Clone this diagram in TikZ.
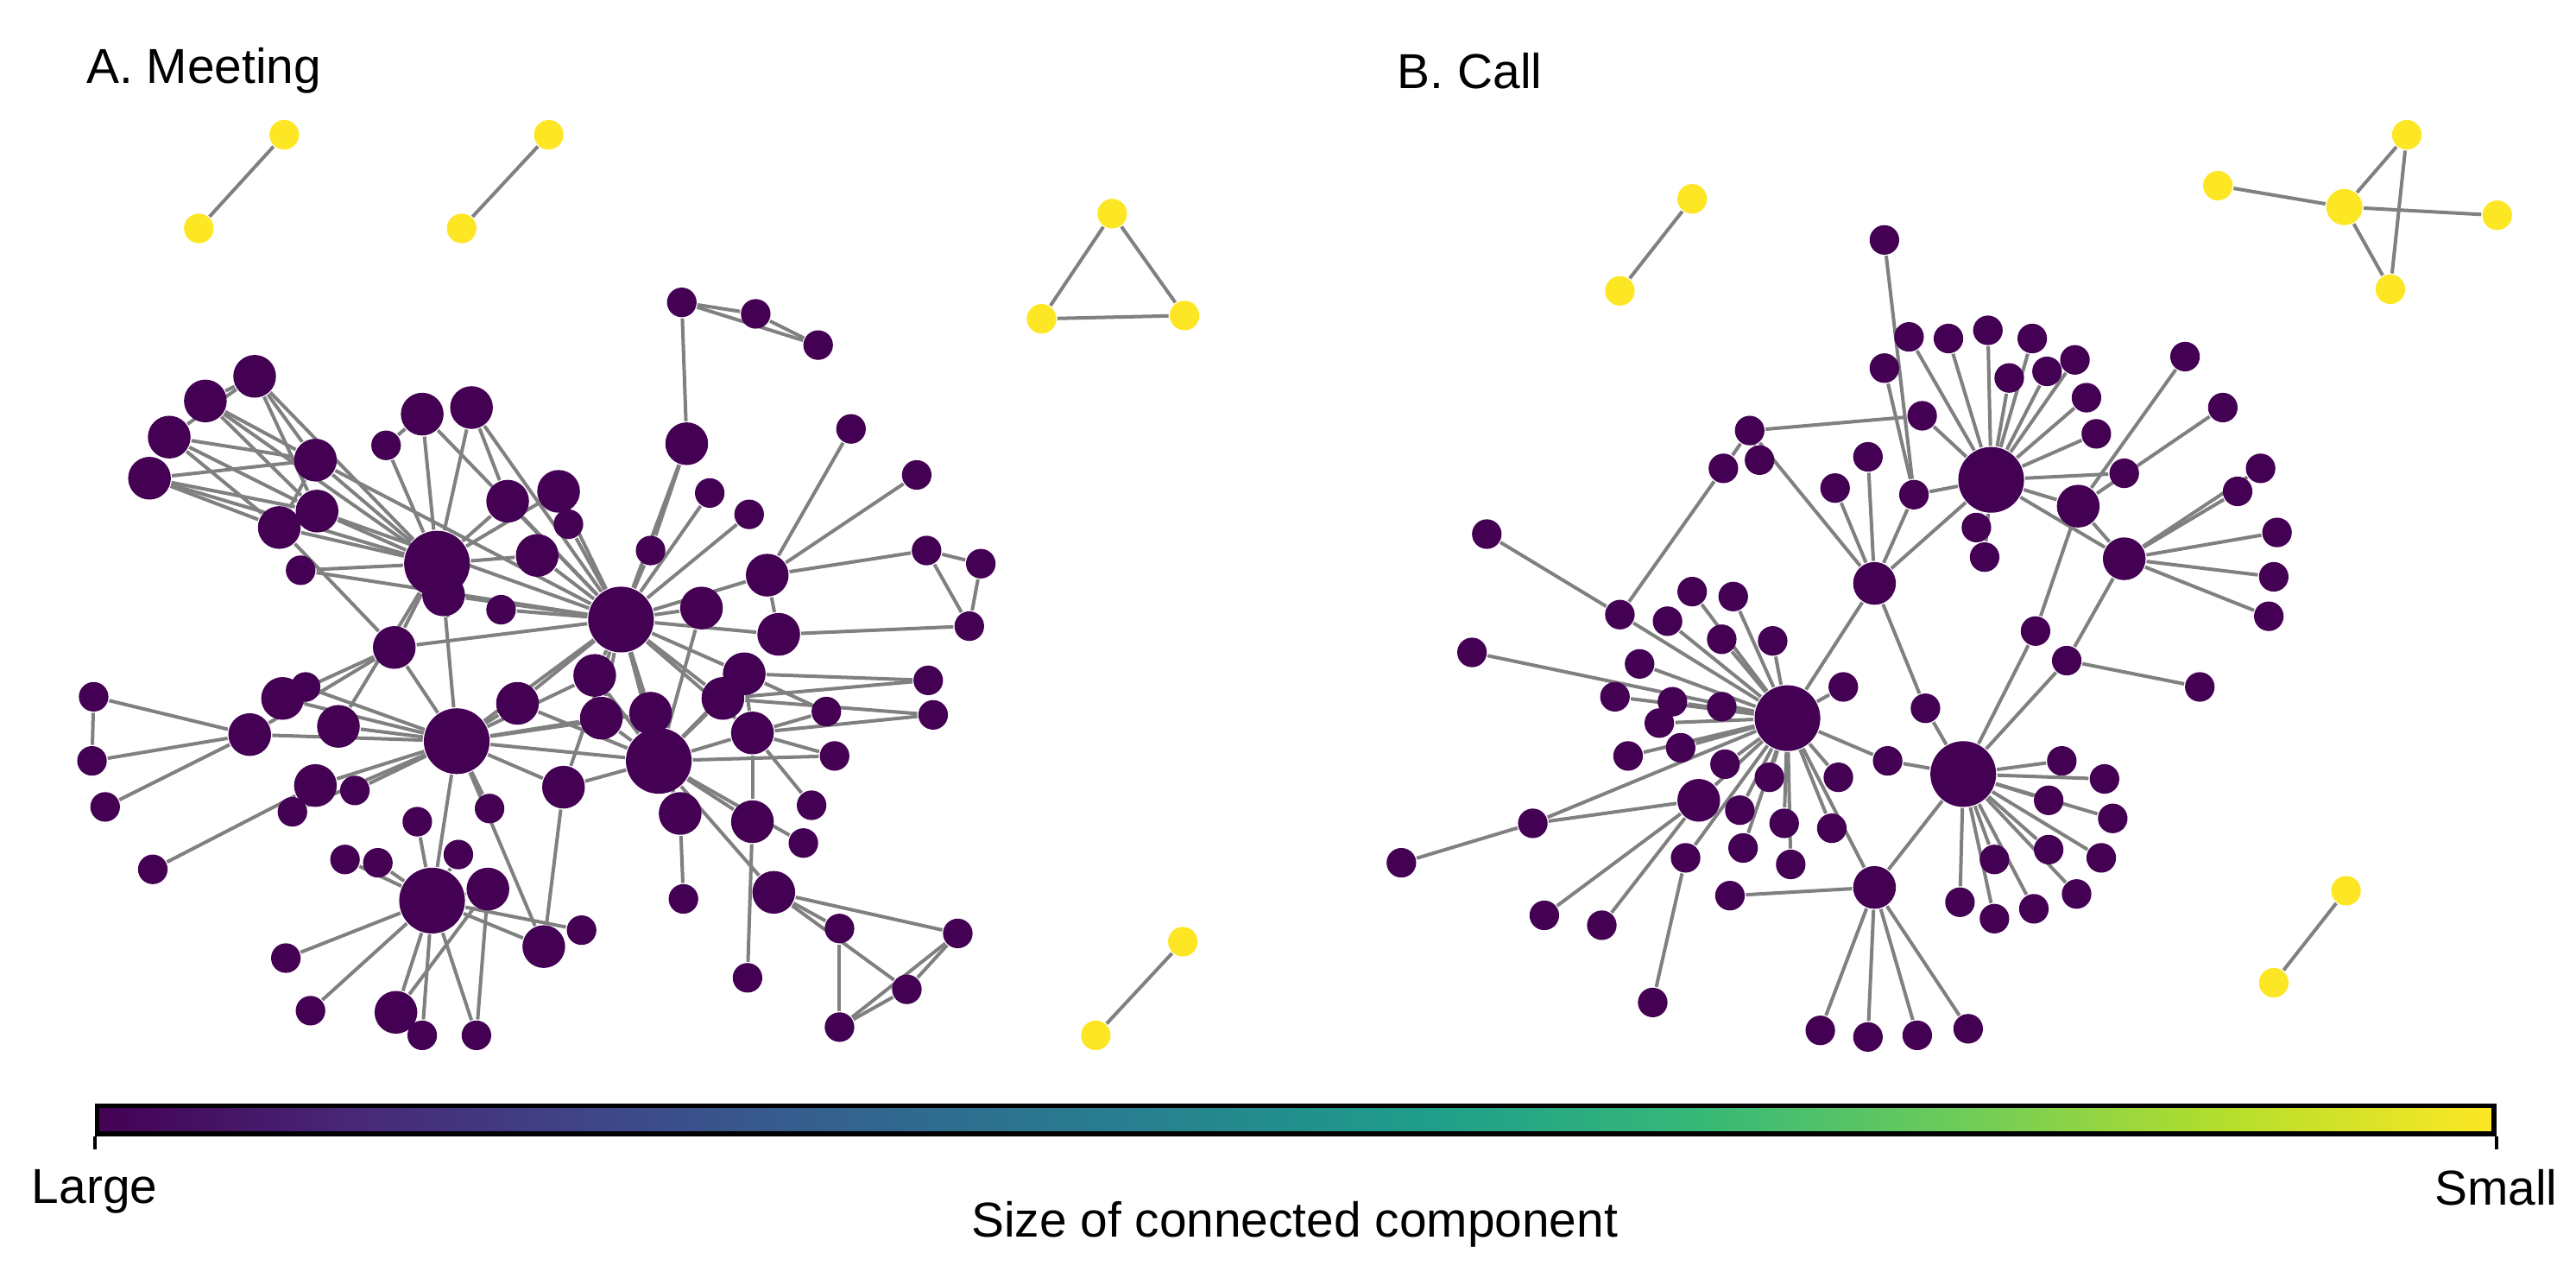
\documentclass[tikz,border=0pt]{standalone}
\usepackage{fontspec}
\setmainfont{Liberation Sans}
\usetikzlibrary{backgrounds}
\definecolor{vpurple}{HTML}{440154}
\definecolor{vyellow}{HTML}{FDE725}
\definecolor{vedge}{HTML}{808080}
\pgfdeclarehorizontalshading{viridis}{100bp}{
  color(0bp)=(vpurple); color(25bp)=(vpurple);
  rgb(30.5bp)=(0.28,0.16,0.47); rgb(36.1bp)=(0.24,0.29,0.54); rgb(41.7bp)=(0.19,0.41,0.56);
  rgb(47.2bp)=(0.15,0.51,0.56); rgb(52.8bp)=(0.12,0.62,0.54); rgb(58.3bp)=(0.21,0.72,0.47);
  rgb(63.9bp)=(0.43,0.80,0.35); rgb(69.4bp)=(0.71,0.87,0.17); color(75bp)=(vyellow);
  color(100bp)=(vyellow)}
\tikzset{
  big/.style={circle, fill=vpurple, inner sep=0pt, minimum size=0.40cm},
  mid/.style={circle, fill=vpurple, inner sep=0pt, minimum size=0.26cm},
  sml/.style={circle, fill=vpurple, inner sep=0pt, minimum size=0.18cm},
  yel/.style={circle, fill=vyellow, inner sep=0pt, minimum size=0.18cm},
  edge/.style={draw=vedge, line width=0.6pt},
  title/.style={anchor=west, inner sep=0pt, font=\fontsize{8.5}{10}\selectfont}
}
\begin{document}
\begin{tikzpicture}
\useasboundingbox (0,0) rectangle (15.68,-7.74);

% meeting network
\foreach \n/\x/\y in {h1/378/377,h2/278/451,h3/401/463,h4/266/343,h5/263/548,
  c1/1212/292,c2/1088/437,c3/1195/471}
  \node[big] (\n) at (\x/100,-\y/100) {};
\foreach \n/\x/\y in {t1/155/229,t2/125/244,t3/103/266,t4/91/291,t5/192/280,t6/193/311,t7/170/321,
  u1/257/252,u2/287/248,p1/309/305,p2/340/299,p4/327/338,hb/270/362,h6/240/394,r4/418/270,
  h7/427/370,hp/467/350,hq/474/386,h9/453/410,h11/440/425,h10/458/446,k1/362/411,k2/366/437,
  k3/396/434,k4/343/479,h8/315/428,g3/414/495,g4/458/500,g6/471/543,b2/331/576,b3/297/541,
  b10/241/616,b15/192/478,b17/206/442,b19/172/425,b20/152/447,
  c4/1141/355,c5/1265/308,c6/1293/340,c7/1141/540,c8/1034/487}
  \node[mid] (\n) at (\x/100,-\y/100) {};
\foreach \n/\x/\y in {u3/235/271,p3/346/319,q1/183/347,s1/305/371,r1/415/184,r2/460/191,r3/498/210,
  r5/432/300,r6/456/313,r7/518/261,r8/558/289,r9/396/335,e1/564/335,e2/597/343,e3/590/381,
  e4/503/433,e5/565/414,e6/568/435,g1/508/460,g2/494/490,g5/489/513,g7/416/547,g8/511/565,
  g9/583/568,g10/455/595,g11/552/602,g12/511/625,b1/354/566,b4/279/520,b5/254/500,b6/230/525,
  b7/210/523,b8/174/583,b9/189/615,b11/257/630,b12/290/630,b13/298/492,b14/216/481,b16/178/494,
  b18/186/418,b21/57/424,b22/56/463,b23/64/491,b24/93/529}
  \node[sml] (\n) at (\x/100,-\y/100) {};
% call network
\foreach \n/\x/\y in {n1/1147/146,n2/1162/205,n3/1186/206,n4/1210/201,n5/1237/206,n6/1263/219,
  n7/1147/224,n8/1170/253,n9/1223/230,n10/1246/226,n11/1270/242,n12/1276/264,n13/1293/288,
  n14/1203/321,n15/1208/339,n16/1137/278,n17/1117/297,d1/1065/262,d2/1165/301,d3/1239/384,
  d4/1258/402,d5/986/374,d6/933/501,d7/1026/522,
  m1/1330/217,m2/1353/248,m3/1362/299,m4/1376/285,m5/1386/324,m6/1384/351,m7/1381/375,m8/1339/418,
  l1/1049/285,l2/1071/280,v1/1030/360,v2/1055/363,v3/1015/378,v4/1048/389,v5/1079/390,
  v6/1122/418,v7/998/404,v8/983/424,v9/1018/427,v10/1048/430,v11/1010/440,v12/991/460,
  v13/1023/455,v14/1050/465,v15/1077/473,v16/1059/493,v17/1086/501,v18/1115/504,v19/1061/516,
  v20/1090/526,v21/1119/473,v22/1149/463,v23/1172/431,w1/905/325,w2/896/397,w3/853/525,
  w4/940/557,w5/975/563,w6/1006/610,w7/1053/545,x1/1255/463,x2/1281/474,x3/1247/487,
  x4/1286/498,x5/1279/522,x6/1247/517,x7/1264/544,x8/1238/553,x9/1214/523,x10/1193/549,
  x11/1214/559,z1/1108/627,z2/1137/631,z3/1167/630,z4/1198/626}
  \node[sml] (\n) at (\x/100,-\y/100) {};
\foreach \n/\x/\y in {ya1/173/82,ya2/121/139,ya3/334/82,ya4/281/139,ya5/677/130,ya6/634/194,
  ya7/721/192,ya8/720/573,ya9/667/630,yb1/1030/121,yb2/986/177,yb3/1465/82,yb5/1350/113,
  yb6/1520/131,yb7/1455/176,yb8/1428/542,yb9/1384/598}
  \node[yel] (\n) at (\x/100,-\y/100) {};
\node[yel, minimum size=0.22cm] (yb4) at (14.27,-1.26) {};

\begin{scope}[on background layer]
\foreach \a/\b in {t1/t2,t1/t3,t1/t5,t1/t6,t2/t5,t2/t6,t3/t5,t3/t6,t4/t5,t4/t6,t4/t7,t3/t7,
  t5/t7,t6/h4,t7/h4,t5/h4,t1/h4,t2/h4,t6/h1,t5/h1,t4/h4,u1/h4,u2/h4,u3/h4,u1/h1,u2/h1,u1/u3,
  u2/p1,p1/h1,p2/h1,p3/h1,p4/h1,p1/h4,p4/h4,p2/h4,q1/h4,q1/h1,hb/h1,hb/h2,hb/h4,h6/h4,h6/h2,
  h6/h1,h6/t7,s1/h1,r1/r2,r1/r3,r2/r3,r1/r4,r4/r9,r4/h1,r5/h1,r6/h1,r7/hp,r8/hp,r9/h1,h7/h1,
  h7/h3,hp/h1,hp/hq,hp/e1,e1/e2,e1/e3,e2/e3,hq/h1,hq/e3,h9/h1,h11/h1,h10/h1,h9/h3,h11/h3,
  h10/h3,h9/h10,h9/e4,h10/e4,h11/e5,h9/e5,h10/e6,h11/e6,k1/h1,k1/h2,k1/h3,k2/h1,k2/h3,k2/h2,
  k3/h1,k3/h2,k3/h3,k4/h2,k4/h3,k4/h1,k4/b2,h8/h1,h8/h2,h8/h3,g3/h3,g3/h1,g4/h3,g4/h10,g1/h10,
  g1/h3,g2/h10,g3/g7,g6/h3,g6/g9,g6/g8,g5/h3,g4/g10,g9/g11,g9/g12,g11/g12,g8/g12,g6/g11,h3/h2,
  h1/h2,h1/h3,h5/b1,h5/b2,h5/b3,h5/b4,h5/b5,h5/b6,h5/b7,h5/b8,h5/b9,h5/b10,h5/b11,h5/b12,
  h5/h2,b3/b10,b3/b12,b2/h2,b13/h2,b14/h2,b15/h2,b16/h2,b17/h2,b18/h2,b19/h2,b19/h6,b20/h2,
  b20/b21,b20/b22,b20/b23,b21/b22,b24/b15,b20/h6,b17/h4,
  ya1/ya2,ya3/ya4,ya5/ya6,ya6/ya7,ya7/ya5,ya8/ya9}
  \draw[edge] (\a) -- (\b);
\foreach \a/\b in {n1/d2,n2/c1,n3/c1,n4/c1,n5/c1,n6/c1,n7/d2,n8/c1,n9/c1,n10/c1,n11/c1,n12/c1,
  n13/c1,n14/c1,n15/c1,d2/c1,c1/c4,c1/c5,c1/c6,n16/c4,n17/c4,d2/c4,n8/d1,d1/c4,l1/d1,l2/d1,
  d5/l1,c4/c2,c4/v23,d3/c5,d3/c3,d4/c6,d4/c3,d4/m8,m1/c5,m2/c5,m3/c6,m4/c6,m5/c6,m6/c6,m7/c6,
  c5/c6,v1/c2,v2/c2,v3/c2,v4/c2,v5/c2,v6/c2,v7/c2,v8/c2,v9/c2,v10/c2,v11/c2,v12/c2,v13/c2,
  v14/c2,v15/c2,v16/c2,v17/c2,v18/c2,v19/c2,v20/c2,v21/c2,v22/c2,w1/d5,w2/c2,d5/c2,d6/c2,
  w3/d6,d6/c8,c8/c2,c8/w4,c8/w5,d7/c2,w6/d7,w7/c7,c7/c2,c7/c3,c7/z1,c7/z2,c7/z3,c7/z4,
  c3/x1,c3/x2,c3/x3,c3/x4,c3/x5,c3/x6,c3/x7,c3/x8,c3/x9,c3/x10,c3/x11,c3/v23,v22/c3,
  yb1/yb2,yb5/yb4,yb4/yb6,yb4/yb3,yb3/yb7,yb4/yb7,yb8/yb9}
  \draw[edge] (\a) -- (\b);
\end{scope}

\node[title] (ta) at (0.52,-0.43) {A. Meeting};
\node[title] (tb) at (8.50,-0.43) {B. Call};

% colour bar
\node[draw=black, line width=0.8pt, shading=viridis, inner sep=0pt,
  minimum width=14.59cm, minimum height=0.17cm] (bar) at (7.885,-6.815) {};
\draw[line width=0.6pt] (bar.south west) -- ++(0,-0.08) coordinate (lt);
\draw[line width=0.6pt] (bar.south east) -- ++(0,-0.08) coordinate (rt);
\node[below, font=\fontsize{8.5}{10}\selectfont] (lg) at (lt) {Large};
\node[below, font=\fontsize{8.5}{10}\selectfont] (sm) at (rt) {Small};
\node[font=\fontsize{8.5}{10}\selectfont] (cap) at (7.88,-7.45) {Size of connected component};
\end{tikzpicture}
\end{document}
